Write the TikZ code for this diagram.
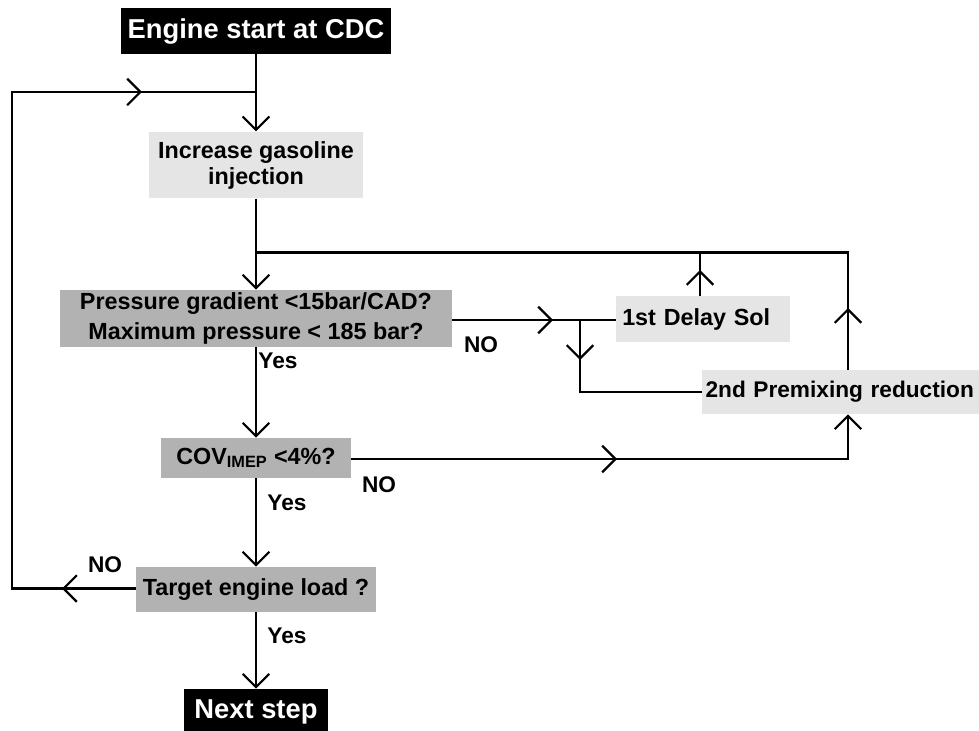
\documentclass[tikz,border=0pt]{standalone}
\usepackage{fontspec}
\setmainfont{Liberation Sans}
\usetikzlibrary{arrows.meta}

\begin{document}
\begin{tikzpicture}[x=0.75pt,y=-0.75pt,>={Straight Barb[length=10pt,width=20pt]},
  term/.style={fill=black,text=white,inner sep=0pt,font=\fontsize{20.5}{24}\selectfont\bfseries},
  act/.style={fill=black!10,inner sep=0pt,align=center,font=\fontsize{17.5}{19.5}\selectfont\bfseries},
  ask/.style={fill=black!30,inner sep=0pt,align=center,font=\fontsize{17.5}{19.5}\selectfont\bfseries},
  flow/.style={draw=black,line width=1.6pt},
  lbl/.style={inner sep=0pt,font=\fontsize{17}{19}\selectfont\bfseries}]
  \useasboundingbox (0,0) rectangle (979,731);
  % the boxes of the chart
  \node[term,minimum width=203pt,minimum height=34.5pt] (start) at (256,31) {Engine start at CDC};
  \node[act,minimum width=160pt,minimum height=50pt] (inc) at (256,165) {Increase gasoline\\injection};
  \node[ask,minimum width=294pt,minimum height=43pt] (press) at (256,318.5) {Pressure gradient <15bar/CAD?\\[3pt]Maximum pressure < 185 bar?};
  \node[act,anchor=west,text width=121pt,inner xsep=4.5pt,align=left,minimum height=34pt] (delay) at (616,319) {1st Delay Sol};
  \node[act,anchor=west,text width=210pt,inner xsep=2.5pt,align=left,minimum height=33pt,font=\fontsize{17}{19}\selectfont\bfseries] (prem) at (702,392) {2nd Premixing reduction};
  \node[ask,minimum width=142pt,minimum height=30pt] (cov) at (256,458) {COV\textsubscript{IMEP} <4\%?};
  \node[ask,minimum width=180pt,minimum height=34pt] (target) at (256,589.5) {Target engine load ?};
  \node[term,minimum width=108pt,minimum height=34.5pt] (next) at (256,712) {Next step};
  % corners and mid-line arrow points
  \coordinate (jtop) at (256,92);
  \coordinate (lft) at (12,92);
  \coordinate (lta) at (142,92);
  \coordinate (lna) at (62,588.5);
  \coordinate (jmid) at (256,252.5);
  \coordinate (rgt) at (848,252.5);
  \coordinate (dua) at (700,270);
  \coordinate (pra) at (848,308);
  \coordinate (noa) at (553,320);
  \coordinate (brn) at (580,320);
  \coordinate (bra) at (580,360);
  \coordinate (cva) at (617,459);
  % main column
  \draw[flow,->] (start) -- (inc);
  \draw[flow,->] (inc) -- (press);
  \draw[flow,->] (press) -- (cov);
  \draw[flow,->] (cov) -- (target);
  \draw[flow,->] (target) -- (next);
  % back to the gasoline step
  \draw[flow] (target.west |- lna) -| (lft) -- (jtop);
  \draw[flow,->] (target.west |- lna) -- (lna);
  \draw[flow,->] (lft) -- (lta);
  % NO branches
  \draw[flow] (press.east |- noa) -- (delay.west |- noa);
  \draw[flow,->] (press.east |- noa) -- (noa);
  \draw[flow] (brn) |- (prem.west);
  \draw[flow,->] (brn) -- (bra);
  \draw[flow,->] (cov.east |- cva) -| (prem.south -| rgt);
  \draw[flow,->] (cov.east |- cva) -- (cva);
  % back to the pressure check
  \draw[flow] (delay.north -| dua) -- (dua |- jmid);
  \draw[flow,->] (delay.north -| dua) -- (dua);
  \draw[flow] (prem.north -| rgt) -- (rgt) -- (jmid);
  \draw[flow,->] (prem.north -| rgt) -- (pra);
  % answers
  \node[lbl] (no1) at (481,345) {NO};
  \node[lbl] (yes1) at (278,361) {Yes};
  \node[lbl] (no2) at (379,485) {NO};
  \node[lbl] (yes2) at (287,502.5) {Yes};
  \node[lbl] (no3) at (105,564.5) {NO};
  \node[lbl] (yes3) at (287,635.5) {Yes};
\end{tikzpicture}
\end{document}
